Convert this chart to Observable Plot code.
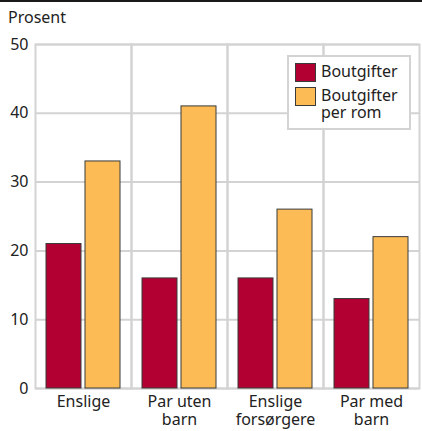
<!DOCTYPE html>
<html>
<head>
<meta charset="utf-8">
<script src="https://cdn.jsdelivr.net/npm/d3@7"></script>
<script src="https://cdn.jsdelivr.net/npm/@observablehq/plot@0.6"></script>
<style>
  html, body { margin: 0; padding: 0; background: #fff; }
  #wrap { position: relative; width: 422px; height: 431px; font-family: "Noto Sans", sans-serif; color: #222; }
  #topline { position: absolute; left: 0; top: 0; width: 422px; height: 1.5px; background: #1a1a1a; }
  #ylabel { position: absolute; left: 8px; top: 6px; font-size: 16px; }
  #legend { position: absolute; left: 287px; top: 55px; width: 120px; height: 71px; border: 2px solid #d3d3d3; background: #fff; font-size: 16px; }
  .item { position: absolute; left: 6px; display: flex; align-items: flex-start; line-height: 17px; }
  .sw { width: 19px; height: 17px; border: 1px solid #3a3a3a; margin-right: 5px; margin-top: 0px; flex: none; }
  svg { display: block; }
</style>
</head>
<body>
<div id="wrap">
  <div id="chart"></div>
  <div id="topline"></div>
  <div id="ylabel"></div>
  <div id="legend"></div>
</div>
<script>
const categories = ["Enslige", "Par uten barn", "Enslige forsørgere", "Par med barn"];
const catLabels = ["Enslige", "Par uten\nbarn", "Enslige\nforsørgere", "Par med\nbarn"];
const series = ["Boutgifter", "Boutgifter per rom"];
const seriesLabels = ["Boutgifter", "Boutgifter<br>per rom"];
const boutgifter = [21, 16, 16, 13];
const boutgifterPerRom = [33, 41, 26, 22];
const yTicks = [0, 10, 20, 30, 40, 50];
const colors = ["#b20033", "#fcbb54"];
const yLabel = "Prosent";

const table = categories.flatMap((c, i) => [
  {cat: c, series: series[0], value: boutgifter[i]},
  {cat: c, series: series[1], value: boutgifterPerRom[i]}
]);

const chart = Plot.plot({
  width: 422,
  height: 431,
  marginTop: 44,
  marginBottom: 43,
  marginLeft: 35,
  marginRight: 3,
  style: {fontFamily: "Noto Sans, sans-serif", fontSize: "16px", color: "#222", background: "transparent"},
  fx: {domain: categories, padding: 0, axis: null, label: null},
  x: {domain: series, paddingInner: 4 / 39, paddingOuter: 0.282, axis: null},
  y: {domain: [0, 50], axis: null},
  color: {domain: series, range: colors},
  marks: [
    Plot.ruleY(yTicks, {stroke: "#d3d3d3", strokeWidth: 2}),
    Plot.frame({stroke: "#d3d3d3", strokeWidth: 2}),
    Plot.barY(table, {fx: "cat", x: "series", y: "value", fill: "series", stroke: "#3a3a3a", strokeWidth: 1}),
    Plot.text(categories, {fx: d => d, text: (d, i) => catLabels[i], frameAnchor: "bottom", lineAnchor: "top", dy: 6, fontSize: 16, fill: "#222", lineHeight: 1.1}),
    Plot.axisY({ticks: yTicks, tickSize: 0, tickPadding: 7, fontSize: 16, fill: "#222", label: null})
  ]
});
document.getElementById("chart").appendChild(chart);
document.getElementById("ylabel").textContent = yLabel;

const legend = document.getElementById("legend");
series.forEach((s, i) => {
  const it = document.createElement("div");
  it.className = "item";
  it.style.top = (i === 0 ? 6 : 30) + "px";
  it.innerHTML = `<span class="sw" style="background:${colors[i]}"></span><span>${seriesLabels[i]}</span>`;
  legend.appendChild(it);
});
</script>
</body>
</html>
